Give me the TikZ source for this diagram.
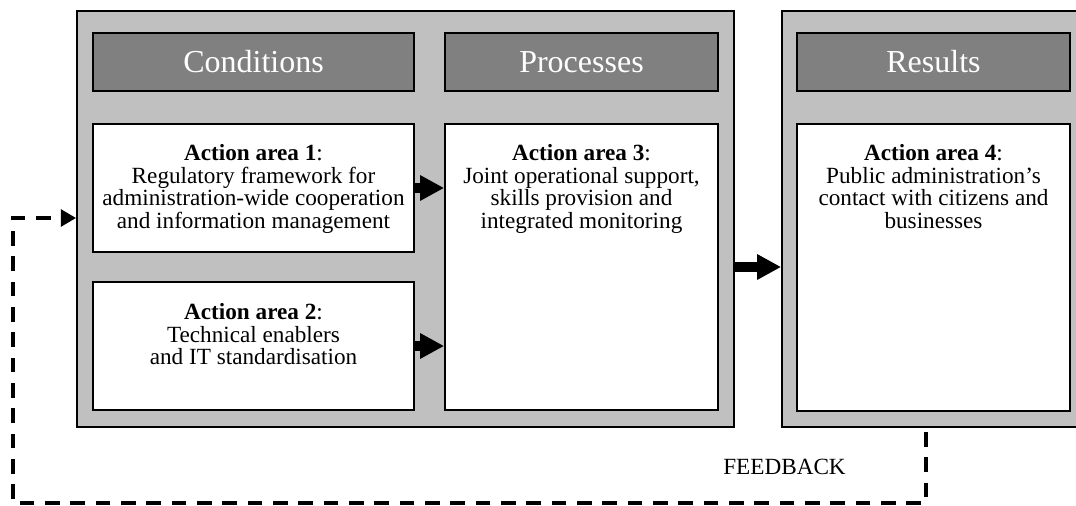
\documentclass[tikz,border=0pt]{standalone}
\usepackage{fontspec}
\setmainfont{Liberation Serif}
\usetikzlibrary{arrows.meta,calc}
\definecolor{outergray}{HTML}{C0C0C0}
\definecolor{headgray}{HTML}{808080}
\tikzset{
  outerbox/.style={draw=black, line width=1.3pt, fill=outergray, inner sep=0pt},
  headbox/.style={draw=black, line width=1.3pt, fill=headgray, inner sep=0pt, text=white,
    font=\fontsize{24}{26}\selectfont},
  areabox/.style={draw=black, line width=1.3pt, fill=white, inner sep=0pt},
  areatext/.style={anchor=north, inner sep=0pt, align=center, font=\fontsize{17.4}{17}\selectfont},
  bigarrow/.style={line width=7.5pt, -{Triangle[length=18pt,width=18pt]}},
  fbarrow/.style={line width=3pt, dash pattern=on 11pt off 8pt, -{Triangle[length=11.5pt,width=12.5pt]}},
}
\begin{document}
\begin{tikzpicture}[x=0.75pt,y=-0.75pt]
\useasboundingbox (0,0) rectangle (1076,506);
% outer boxes
\node[outerbox, minimum width=492.75pt, minimum height=312pt] (o1) at (405.5,219) {};
\node[outerbox, minimum width=228pt, minimum height=312pt] (o2) at (934,219) {};
% headers
\node[headbox, minimum width=240.75pt, minimum height=43.5pt] (h1) at (253.5,62) {Conditions};
\node[headbox, minimum width=204.75pt, minimum height=43.5pt] (h2) at (581.5,62) {Processes};
\node[headbox, minimum width=204.75pt, minimum height=43.5pt] (h3) at (933.5,62) {Results};
% action areas
\node[areabox, minimum width=240.75pt, minimum height=96pt] (a1) at (253.5,188) {};
\node[areabox, minimum width=240.75pt, minimum height=96pt] (a2) at (253.5,346) {};
\node[areabox, minimum width=204.75pt, minimum height=214.5pt] (a3) at (581.5,267) {};
\node[areabox, minimum width=204.75pt, minimum height=215.25pt] (a4) at (933.5,267.5) {};
% texts
\node[areatext] (t1) at ($(a1.north)+(0,21)$) {\textbf{Action area 1}:\\Regulatory framework for\\administration-wide cooperation\\and information management};
\node[areatext] (t2) at ($(a2.north)+(0,22)$) {\textbf{Action area 2}:\\Technical enablers\\and IT standardisation};
\node[areatext] (t3) at ($(a3.north)+(0,21)$) {\textbf{Action area 3}:\\Joint operational support,\\skills provision and\\integrated monitoring};
\node[areatext] (t4) at ($(a4.north)+(0,21)$) {\textbf{Action area 4}:\\Public administration's\\contact with citizens and\\businesses};
% big arrows
\draw[bigarrow] (a1.east) -- (a1.east -| a3.west);
\draw[bigarrow] (a2.east) -- (a2.east -| a3.west);
\draw[bigarrow] (o1.east |- a3.center) -- (o2.west |- a3.center);
% feedback
\coordinate (f0) at (926,432);
\coordinate (f1) at (926,503);
\coordinate (f2) at (13,503);
\coordinate (f3) at (13,218);
\coordinate (f4) at (o1.west |- f3);
\draw[fbarrow] (f0) -- (f1) -- (f2) -- (f3) -- (f4);
\node[font=\fontsize{17.4}{17}\selectfont, inner sep=0pt] (fb) at (784.5,467) {FEEDBACK};
\end{tikzpicture}
\end{document}
